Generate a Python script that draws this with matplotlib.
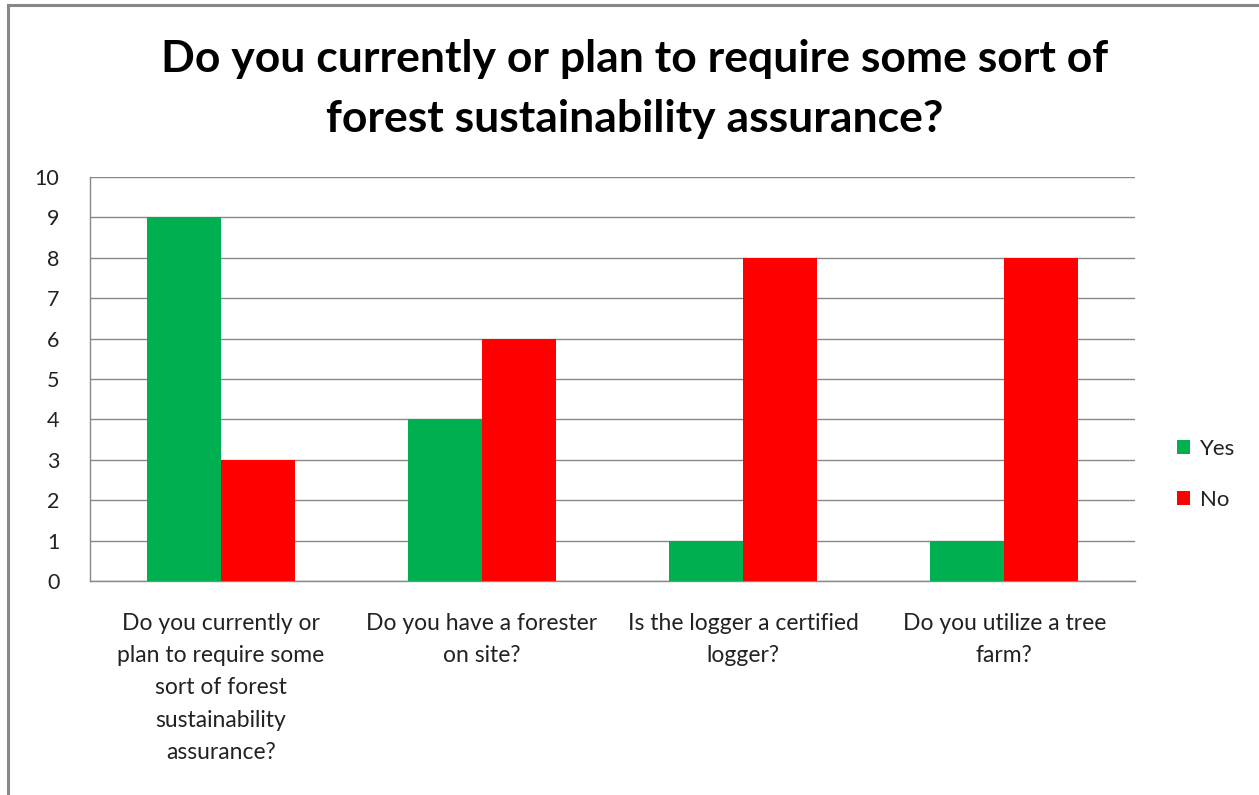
import numpy as np
import matplotlib.pyplot as plt
from matplotlib.lines import Line2D

plt.rcParams["font.family"] = ["Lato", "DejaVu Sans"]

categories = [
    "Do you currently or\nplan to require some\nsort of forest\nsustainability\nassurance?",
    "Do you have a forester\non site?",
    "Is the logger a certified\nlogger?",
    "Do you utilize a tree\nfarm?",
]
yes_counts = [9, 4, 1, 1]
no_counts = [3, 6, 8, 8]
series_names = ["Yes", "No"]
colors = ["#00B050", "#FF0000"]
title = "Do you currently or plan to require some sort of\nforest sustainability assurance?"

fig = plt.figure(figsize=(12.59, 7.95), dpi=100)
ax = fig.add_axes([0.0715, 0.2692, 0.83, 0.5082])

x = np.arange(len(categories))
width = 0.283
ax.bar(x - width / 2, yes_counts, width, color=colors[0], label=series_names[0], zorder=3)
ax.bar(x + width / 2, no_counts, width, color=colors[1], label=series_names[1], zorder=3)

ax.set_xlim(-0.5, len(categories) - 0.5)
ax.set_ylim(0, 10)
ax.set_yticks(range(0, 11))
ax.yaxis.grid(True, color="#888888", linewidth=1.0, zorder=0)
ax.set_axisbelow(True)
ax.tick_params(axis="y", length=0, pad=22, labelsize=15.5)
ax.tick_params(axis="x", length=0, pad=23)
ax.set_xticks(x)
ax.set_xticklabels(categories, fontsize=16.5, linespacing=1.66, va="top", color="#222222")
for lbl in ax.get_yticklabels():
    lbl.set_color("#222222")
for side in ("top", "right"):
    ax.spines[side].set_visible(False)
for side in ("left", "bottom"):
    ax.spines[side].set_color("#888888")
    ax.spines[side].set_linewidth(1.0)

fig.text(0.504, 0.888, title, ha="center", va="center", fontsize=32,
         fontweight="bold", linespacing=1.62)

leg = ax.legend(loc="center left", bbox_to_anchor=(0.919, 0.403), bbox_transform=fig.transFigure,
                frameon=False, fontsize=16, handlelength=0.6, handleheight=0.6,
                labelspacing=1.4, handletextpad=0.45)
for t in leg.get_texts():
    t.set_color("#222222")

# outer chart border (top and left edges visible in the crop)
border_kw = dict(color="#888888", linewidth=2.2, transform=fig.transFigure)
fig.add_artist(Line2D([8 / 1259, 1], [1 - 5 / 795, 1 - 5 / 795], **border_kw))
fig.add_artist(Line2D([8 / 1259, 8 / 1259], [0, 1 - 5 / 795], **border_kw))

fig.savefig("out.png", dpi=100)
